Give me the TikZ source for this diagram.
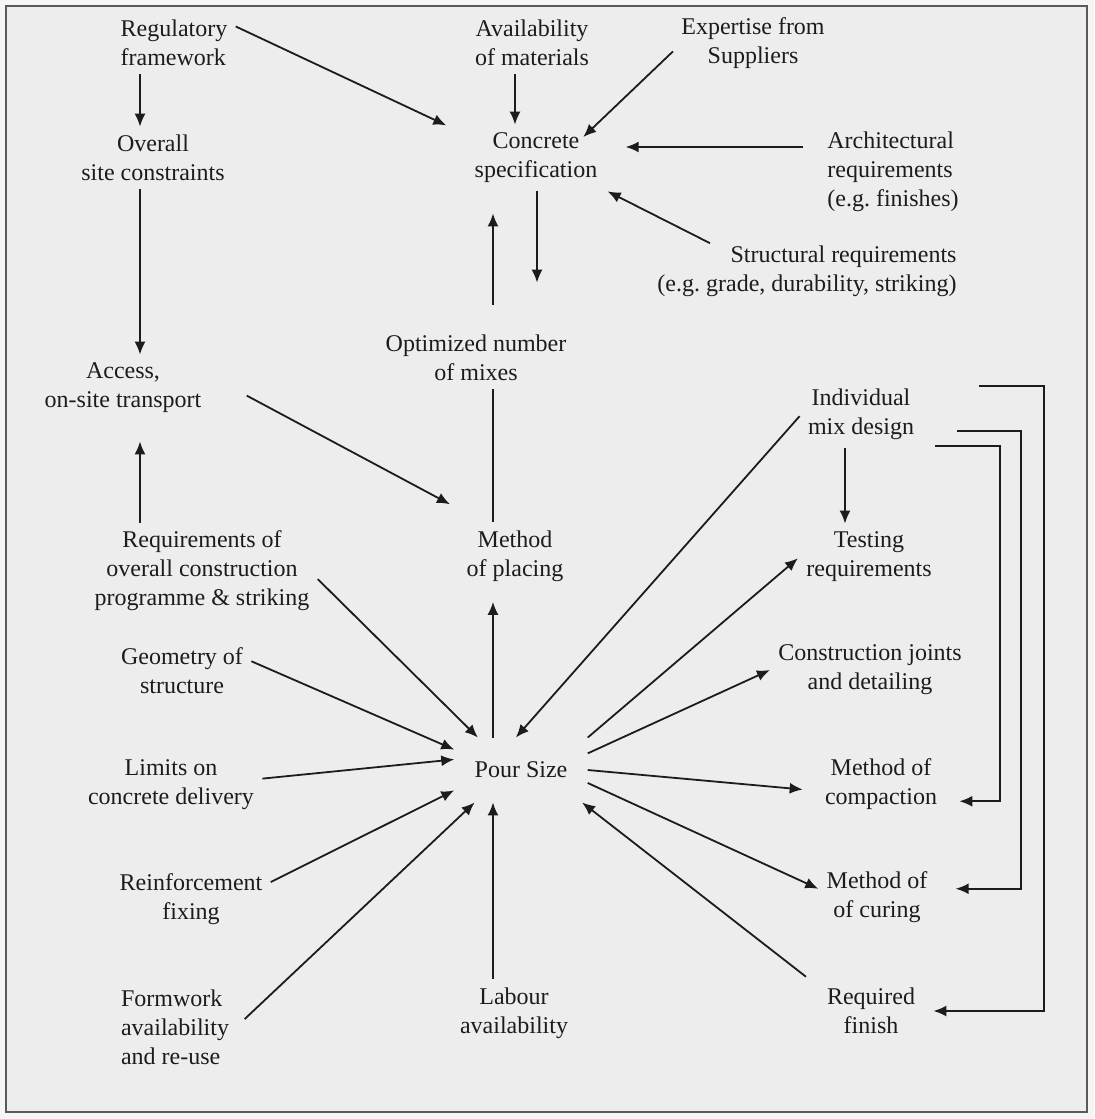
\documentclass[tikz,border=0pt]{standalone}
\usepackage{fontspec}
\setmainfont{Liberation Serif}
\usetikzlibrary{arrows.meta}
\definecolor{paper}{HTML}{EDEDED}
\definecolor{ink}{HTML}{1C1C1C}
\tikzset{
  lbl/.style={font=\fontsize{12}{14.5}\selectfont, text=ink, align=center, inner sep=4pt},
  arr/.style={-{Latex[length=6.5pt,width=5.5pt]}, line width=0.9pt, draw=ink},
  ln/.style={line width=0.9pt, draw=ink}
}
\begin{document}
\begin{tikzpicture}[x=0.5pt,y=-0.5pt]
    \useasboundingbox (0,0) rectangle (1094,1119);
    \fill[black!4] (0,0) rectangle (1094,1119);
    \draw[fill=paper, draw=black!65, line width=1pt] (6,6) rectangle (1087,1112);

    \coordinate (colL) at (140,0);
    \coordinate (colA) at (515,0);
    \coordinate (colM) at (493,0);
    \coordinate (colS) at (537,0);
    \coordinate (colT) at (845,0);
    \coordinate (brA) at (979,386);
    \coordinate (brB) at (957,431);
    \coordinate (brC) at (935,446);

    \node[lbl, align=left] (reg) at (174,43) {Regulatory\\framework};
    \node[lbl] (avail) at (532,43) {Availability\\of materials};
    \node[lbl] (exp) at (753,43) {Expertise from\\Suppliers};
    \node[lbl] (ovr) at (153,158) {Overall\\site constraints};
    \node[lbl, inner xsep=14pt] (spec) at (536,158) {Concrete\\specification};
    \node[lbl, align=left] (arch) at (893,172) {Architectural\\requirements\\(e.g.\ finishes)};
    \node[lbl, align=right, inner ysep=1pt] (struct) at (807,271) {Structural requirements\\(e.g.\ grade, durability, striking)};
    \node[lbl] (mixes) at (476,358) {Optimized number\\of mixes};
    \node[lbl] (access) at (123,388) {Access,\\on-site transport};
    \node[lbl] (indiv) at (861,414) {Individual\\mix design};
    \node[lbl] (reqs) at (202,571) {Requirements of\\overall construction\\programme \& striking};
    \node[lbl] (placing) at (515,556) {Method\\of placing};
    \node[lbl] (test) at (869,557) {Testing\\requirements};
    \node[lbl] (geom) at (182,671) {Geometry of\\structure};
    \node[lbl] (joints) at (870,670) {Construction joints\\and detailing};
    \node[lbl] (limits) at (171,785) {Limits on\\concrete delivery};
    \node[lbl, inner xsep=10pt, inner ysep=12pt] (pour) at (521,770) {Pour Size};
    \node[lbl] (compact) at (881,784) {Method of\\compaction};
    \node[lbl] (reinf) at (191,899) {Reinforcement\\fixing};
    \node[lbl] (curing) at (877,897) {Method of\\of curing};
    \node[lbl, align=left] (form) at (175,1027) {Formwork\\availability\\and re-use};
    \node[lbl] (labour) at (514,1013) {Labour\\availability};
    \node[lbl] (finish) at (871,1011) {Required\\finish};

    \draw[arr] (reg.south -| colL) -- (ovr.north -| colL);
    \draw[arr] (reg.15) -- (spec.160);
    \draw[arr] (avail.south -| colA) -- (spec.north -| colA);
    \draw[arr, shorten >=-9pt] (exp.186) -- (spec.29);
    \draw[arr, shorten <=8pt] (spec.7 -| arch.west) -- (spec.7);
    \draw[arr] (struct.164) -- (spec.-25);
    \draw[arr] (ovr.south -| colL) -- (access.north -| colL);
    \draw[arr, shorten >=22pt] (spec.south -| colS) -- (mixes.north -| colS);
    \draw[arr, shorten <=11pt, shorten >=11pt] (mixes.north -| colM) -- (spec.south -| colM);
    \draw[ln] (mixes.south -| colM) -- (placing.north -| colM);
    \draw[arr, shorten <=21pt, shorten >=19pt] (access.8) -- (placing.133);
    \draw[arr, shorten >=10pt] (reqs.north -| colL) -- (access.south -| colL);

    \draw[arr] (reqs.-4) -- (pour.143);
    \draw[arr] (geom.8) -- (pour.163);
    \draw[arr] (limits.4) -- (pour.171);
    \draw[arr] (reinf.12) -- (pour.197);
    \draw[arr, shorten <=5pt] (form.1) -- (pour.215);
    \draw[arr] (labour.north -| colM) -- (pour.south -| colM);
    \draw[arr, shorten <=8pt] (finish.155) -- (pour.-28);
    \draw[arr] (indiv.182) -- (pour.99);
    \draw[arr, shorten >=6pt] (pour.north -| colM) -- (placing.south -| colM);
    \draw[arr] (pour.north east) -- (test.181);
    \draw[arr] (pour.14) -- (joints.west);
    \draw[arr, shorten >=7pt] (pour.east) -- (compact.186);
    \draw[arr] (pour.-11) -- (curing.172);
    \draw[arr] (indiv.south -| colT) -- (test.north -| colT);

    \draw[arr, shorten >=5pt] (brA) -- ++(65,0) |- (finish.east);
    \draw[arr, shorten >=10pt] (brB) -- ++(64,0) |- (curing.8);
    \draw[arr, shorten >=7pt] (brC) -- ++(65,0) |- (compact.-15);
\end{tikzpicture}
\end{document}
